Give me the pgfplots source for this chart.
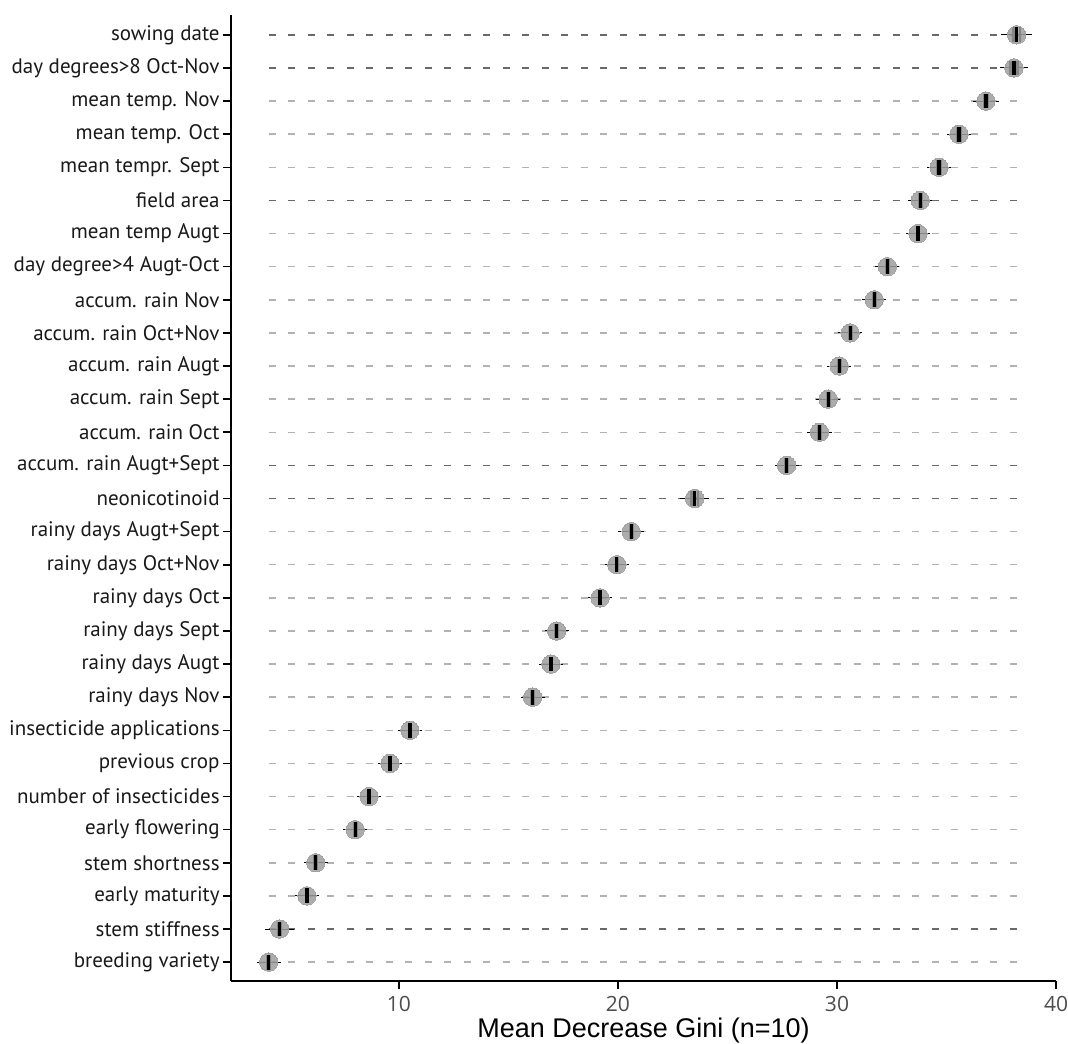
\documentclass[border=0pt]{standalone}
\usepackage{fontspec}
\usepackage{pgfplots}
\usepackage{pgfplotstable}
\pgfplotsset{compat=1.18}
\newfontfamily\labfont{PT Sans}
\newfontfamily\tickfont{Open Sans}
\newfontfamily\titlefont{Liberation Sans}
\definecolor{dotgrey}{RGB}{158,158,158}
\definecolor{guidelight}{RGB}{178,178,178}
\definecolor{guidedark}{RGB}{105,105,105}
\definecolor{tickgrey}{RGB}{77,77,77}

% y: row (1 = bottom), x: mean decrease Gini, w: whisker half-width, b: box half-width
\pgfplotstableread{
y  x      w    b
1  4.05   0.55 0.05
2  4.55   0.65 0.05
3  5.80   0.55 0.05
4  6.20   0.55 0.05
5  8.00   0.55 0.05
6  8.63   0.55 0.05
7  9.59   0.55 0.05
8  10.50  0.55 0.05
9  16.10  0.55 0.05
10 16.94  0.55 0.05
11 17.20  0.55 0.05
12 19.18  0.55 0.05
13 19.95  0.55 0.05
14 20.60  0.60 0.05
15 23.50  0.65 0.15
16 27.70  0.55 0.05
17 29.20  0.55 0.05
18 29.60  0.55 0.05
19 30.10  0.55 0.05
20 30.60  0.55 0.05
21 31.70  0.55 0.05
22 32.30  0.55 0.05
23 33.70  0.55 0.05
24 33.80  0.55 0.05
25 34.66  0.55 0.07
26 35.57  0.55 0.07
27 36.80  0.60 0.07
28 38.08  0.65 0.15
29 38.20  0.70 0.15
}\gini

% guide segments from the smallest to the largest value: start and length
\pgfplotstableread{
y  s     l
1  4.05  34.15
3  4.05  34.15
4  4.05  34.15
5  4.05  34.15
6  4.05  34.15
7  4.05  34.15
8  4.05  34.15
9  4.05  34.15
10 4.05  34.15
11 4.05  34.15
12 4.05  34.15
13 4.05  34.15
14 4.05  34.15
17 4.05  34.15
18 4.05  34.15
19 4.05  34.15
20 4.05  34.15
21 4.05  34.15
22 4.05  34.15
23 4.05  34.15
25 4.05  34.15
26 4.05  34.15
27 4.05  34.15
}\guidelight

\pgfplotstableread{
y  s     l
2  4.05  34.15
15 4.05  34.15
16 4.05  34.15
24 4.05  34.15
28 4.05  34.15
29 4.05  34.15
}\guidedark

\begin{document}
\begin{tikzpicture}
\useasboundingbox (0,0) rectangle (534pt,521.5pt);
\begin{axis}[
    at={(115.5pt,31pt)}, anchor=south west,
    scale only axis,
    width=412.5pt, height=483pt,
    xmin=2.33, xmax=40,
    ymin=0.43, ymax=29.6,
    axis lines=left,
    axis line style={-, line width=1.4pt, black},
    tick align=outside,
    major tick length=4pt,
    tick style={line width=0.8pt, black},
    xtick={10,20,30,40},
    ytick={1,...,29},
    yticklabels={breeding variety, stem stiffness, early maturity, stem shortness,
        early flowering, number of insecticides, previous crop, insecticide applications,
        rainy days Nov, rainy days Augt, rainy days Sept, rainy days Oct,
        rainy days Oct+Nov, rainy days Augt+Sept, neonicotinoid,
        accum. rain Augt+Sept, accum. rain Oct, accum. rain Sept, accum. rain Augt,
        accum. rain Oct+Nov, accum. rain Nov, day degree>4 Augt-Oct, mean temp Augt,
        field area, mean tempr. Sept, mean temp. Oct, mean temp. Nov,
        day degrees>8 Oct-Nov, sowing date},
    yticklabel style={font=\labfont\fontsize{10.5}{12}\selectfont, text=black!90, inner sep=1.5pt},
    xticklabel style={font=\tickfont\fontsize{10.5}{12}\selectfont, text=tickgrey},
    /pgf/number format/assume math mode=true,
    xlabel={Mean Decrease Gini (n=10)},
    xlabel style={font=\titlefont\fontsize{13.5}{16}\selectfont, yshift=3.5pt},
    clip=false,
]
% dashed guides
\addplot[draw=none, mark=none, forget plot,
    error bars/.cd, x dir=plus, x explicit, error mark=none,
    error bar style={draw=guidelight, line width=0.75pt, dash pattern=on 3.5pt off 6.25pt}]
    table[x=s, y=y, x error=l] {\guidelight};
\addplot[draw=none, mark=none, forget plot,
    error bars/.cd, x dir=plus, x explicit, error mark=none,
    error bar style={draw=guidedark, line width=0.75pt, dash pattern=on 3.5pt off 6.25pt}]
    table[x=s, y=y, x error=l] {\guidedark};
% whiskers
\addplot[draw=none, mark=none,
    error bars/.cd, x dir=both, x explicit, error mark=none,
    error bar style={draw=black, line width=0.5pt}]
    table[x=x, y=y, x error=w] {\gini};
% grey points
\addplot[only marks, mark=*, mark size=4.6pt,
    mark options={fill=dotgrey, draw=dotgrey, line width=0pt, fill opacity=0.85, draw opacity=0.85}]
    table[x=x, y=y] {\gini};
% boxes: edges and crossbar
\addplot[only marks, mark=|, mark size=3.7pt,
    mark options={draw=black, line width=1.6pt},
    error bars/.cd, x dir=both, x explicit, error mark=|,
    error mark options={draw=black, line width=1.3pt, mark size=3.7pt},
    error bar style={draw=black, line width=1.2pt}]
    table[x=x, y=y, x error=b] {\gini};
\end{axis}
\end{tikzpicture}
\end{document}
